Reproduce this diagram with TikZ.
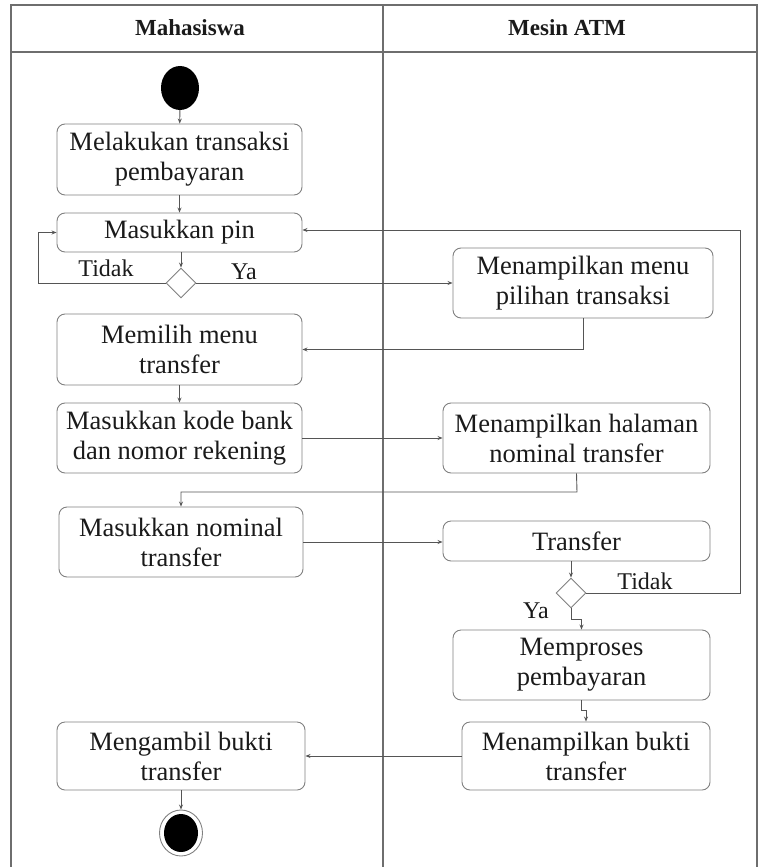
\documentclass[tikz,border=0pt]{standalone}
\usepackage{fontspec}
\setmainfont{Liberation Serif}
\usetikzlibrary{arrows.meta,shapes.geometric}
\definecolor{frm}{HTML}{6E6E6E}
\definecolor{bx}{HTML}{808080}
\definecolor{ln}{HTML}{555555}
\definecolor{tx}{HTML}{1A1A1A}
\tikzset{
  act/.style={draw=bx, line width=0.9pt, rounded corners=8pt, align=center, text=tx,
    font=\fontsize{26.5}{30}\selectfont, inner sep=0pt},
  dec/.style={draw=bx, line width=0.9pt, diamond, minimum width=30pt, minimum height=30pt, inner sep=0pt, fill=white},
  flow/.style={draw=ln, line width=0.9pt, -{Stealth[length=5pt,width=4pt]}},
  lbl/.style={text=tx, font=\fontsize{24}{26}\selectfont, inner sep=0pt},
  hdr/.style={text=tx, font=\bfseries\fontsize{23}{26}\selectfont, inner sep=0pt}
}
\begin{document}
\begin{tikzpicture}[x=1pt,y=-1pt]
\useasboundingbox (0,0) rectangle (758,867);
% frame
\draw[frm, line width=1.1pt] (11,867) -- (11,5) -- (757,5) -- (757,867);
\draw[frm, line width=1.1pt] (11,52) -- (757,52);
\draw[frm, line width=1.1pt] (383,5) -- (383,867);
\node[hdr] (h1) at (190,28) {Mahasiswa};
\node[hdr] (h2) at (567,28) {Mesin ATM};
% nodes
\node[ellipse, fill=black, minimum width=38pt, minimum height=44pt, inner sep=0pt] (start) at (180,88) {};
\node[act, minimum width=245pt, minimum height=71pt] (b1) at (179.5,159.5) {Melakukan transaksi\\pembayaran};
\node[act, minimum width=245pt, minimum height=39pt] (b2) at (179.5,232.5) {Masukkan pin};
\node[dec] (d1) at (181,283) {};
\node[act, minimum width=260pt, minimum height=70pt] (m1) at (583,283) {Menampilkan menu\\pilihan transaksi};
\node[act, minimum width=245pt, minimum height=71pt] (b3) at (179.5,349.5) {Memilih menu\\transfer};
\node[act, minimum width=245pt, minimum height=70pt] (b4) at (179.5,438) {Masukkan kode bank\\dan nomor rekening};
\node[act, minimum width=267pt, minimum height=70pt] (m2) at (576.5,438) {Menampilkan halaman\\nominal transfer};
\node[act, minimum width=244pt, minimum height=70pt] (b5) at (181,542) {Masukkan nominal\\transfer};
\node[act, minimum width=267pt, minimum height=40pt] (m3) at (576.5,541) {Transfer};
\node[dec] (d2) at (571,593) {};
\node[act, minimum width=257pt, minimum height=70pt] (m4) at (581.5,665) {Memproses\\pembayaran};
\node[act, minimum width=248pt, minimum height=68pt] (m5) at (586,756) {Menampilkan bukti\\transfer};
\node[act, minimum width=248pt, minimum height=68pt] (b6) at (181,756) {Mengambil bukti\\transfer};
\node[ellipse, draw=bx, line width=0.9pt, minimum width=43pt, minimum height=46pt, inner sep=0pt] (end) at (181,833) {};
\fill[black] (end.center) ellipse (17pt and 19pt);
% labels
\node[lbl] (t1) at (106,268) {Tidak};
\node[lbl] (y1) at (244,272) {Ya};
\node[lbl] (t2) at (645,581) {Tidak};
\node[lbl] (y2) at (536,611) {Ya};
% coordinates
\coordinate (l1) at (38,283);
\coordinate (c1) at (577,492);
\coordinate (r1) at (740,593);
\coordinate (r2) at (740,230);
\coordinate (j1) at (571,619);
\coordinate (j2) at (581.5,710);
% connectors
\draw[flow] (start) -- (b1);
\draw[flow] (b1) -- (b2);
\draw[flow] (b2.south -| d1) -- (d1.north);
\draw[flow] (d1.west) -- (l1) |- (b2.west);
\draw[flow] (d1.east) -- (m1.west);
\draw[flow] (m1.south) |- (b3.east);
\draw[flow] (b3) -- (b4);
\draw[flow] (b4.east) -- (m2.west);
\draw[flow] (m2.south) -- (c1) -| (b5.north);
\draw[flow] (b5.east) -- (m3.west |- b5.east);
\draw[flow] (m3.south -| d2) -- (d2.north);
\draw[flow] (d2.east) -- (r1) -- (r2) -- (b2.east |- r2);
\draw[flow] (d2.south) -- (j1) -| (m4.north);
\draw[flow] (m4.south) -- (j2) -| (m5.north);
\draw[flow] (m5.west) -- (b6.east);
\draw[flow] (b6) -- (end);
\end{tikzpicture}
\end{document}
